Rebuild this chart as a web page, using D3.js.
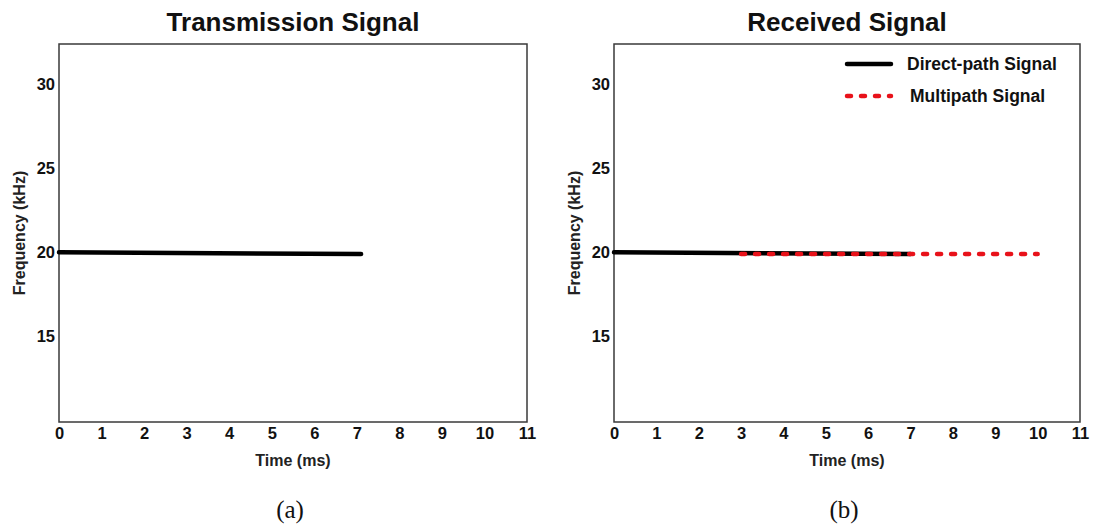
<!DOCTYPE html>
<html>
<head>
<meta charset="utf-8">
<script src="https://cdn.jsdelivr.net/npm/d3@7"></script>
<style>
  body { margin: 0; background: #fff; }
</style>
</head>
<body>
<div id="chart"></div>
<script>
// data
var xTicks = [0, 1, 2, 3, 4, 5, 6, 7, 8, 9, 10, 11];
var yTicks = [15, 20, 25, 30];
var transTime = [0, 7.1];
var transFreq = [20, 19.9];
var directTime = [0, 7];
var directFreq = [20, 19.9];
var multiTime = [3, 10];
var multiFreq = [19.9, 19.9];
var legendLabels = ["Direct-path Signal", "Multipath Signal"];

var W = 1097, H = 525;
var sans = "'Liberation Sans', Arial, sans-serif";
var serif = "'Liberation Serif', 'Times New Roman', serif";

var svg = d3.select("#chart").append("svg")
  .attr("width", W).attr("height", H);

var panelTop = 44, panelBottom = 422;

function toPoints(ts, fs) {
  return ts.map(function (t, i) { return { t: t, f: fs[i] }; });
}

function drawPanel(left, right, title, caption, series, legend) {
  var x = d3.scaleLinear().domain([0, 11]).range([left, right]);
  var y = d3.scaleLinear().domain([9.9, 32.4]).range([panelBottom, panelTop]);
  var g = svg.append("g");

  // frame
  g.append("rect")
    .attr("x", left).attr("y", panelTop)
    .attr("width", right - left).attr("height", panelBottom - panelTop)
    .attr("fill", "none").attr("stroke", "#3a3a3a").attr("stroke-width", 1.5);

  // x axis
  var xa = g.append("g").attr("transform", "translate(0," + panelBottom + ")")
    .call(d3.axisBottom(x).tickValues(xTicks).tickSize(0).tickPadding(5));
  xa.select(".domain").remove();
  xa.selectAll("text")
    .style("font-size", "16.5px").style("font-weight", "bold")
    .style("font-family", sans).attr("fill", "#111");

  // y axis
  var ya = g.append("g").attr("transform", "translate(" + left + ",0)")
    .call(d3.axisLeft(y).tickValues(yTicks).tickSize(0).tickPadding(4));
  ya.select(".domain").remove();
  ya.selectAll("text")
    .style("font-size", "16.5px").style("font-weight", "bold")
    .style("font-family", sans).attr("fill", "#111");

  // titles
  g.append("text")
    .attr("x", (left + right) / 2).attr("y", 31)
    .attr("text-anchor", "middle")
    .style("font-family", sans).style("font-size", "26px").style("font-weight", "bold")
    .attr("fill", "#111")
    .text(title);

  g.append("text")
    .attr("x", (left + right) / 2).attr("y", 466)
    .attr("text-anchor", "middle")
    .style("font-family", sans).style("font-size", "16px").style("font-weight", "bold")
    .attr("fill", "#222")
    .text("Time (ms)");

  g.append("text")
    .attr("transform", "translate(" + (left - 34) + "," + ((panelTop + panelBottom) / 2) + "),rotate(-90)")
    .attr("text-anchor", "middle")
    .style("font-family", sans).style("font-size", "16px").style("font-weight", "bold")
    .attr("fill", "#222")
    .text("Frequency (kHz)");

  g.append("text")
    .attr("x", (left + right) / 2 - 3).attr("y", 518)
    .attr("text-anchor", "middle")
    .style("font-family", serif).style("font-size", "25px")
    .attr("fill", "#111")
    .text(caption);

  var line = d3.line()
    .x(function (d) { return x(d.t); })
    .y(function (d) { return y(d.f); });

  series.forEach(function (s) {
    g.append("path")
      .datum(s.data)
      .attr("fill", "none")
      .attr("stroke", s.color)
      .attr("stroke-width", 4.5)
      .attr("stroke-linecap", "round")
      .attr("stroke-dasharray", s.dash || null)
      .attr("d", line);
  });

  if (legend) {
    legend.forEach(function (l, i) {
      var ly = 64 + i * 32;
      g.append("line")
        .attr("x1", 847).attr("x2", 891)
        .attr("y1", ly).attr("y2", ly)
        .attr("stroke", l.color).attr("stroke-width", 4.5)
        .attr("stroke-linecap", "round")
        .attr("stroke-dasharray", l.dash || null);
      g.append("text")
        .attr("x", l.tx).attr("y", ly + 6)
        .style("font-family", sans).style("font-size", "17.5px").style("font-weight", "bold")
        .attr("fill", "#111")
        .text(l.label);
    });
  }
}

drawPanel(59, 527, "Transmission Signal", "(a)", [
  { data: toPoints(transTime, transFreq), color: "#000" }
]);

drawPanel(614, 1080, "Received Signal", "(b)", [
  { data: toPoints(directTime, directFreq), color: "#000" },
  { data: toPoints(multiTime, multiFreq), color: "#e8121a", dash: "4,10" }
], [
  { label: legendLabels[0], color: "#000", tx: 907 },
  { label: legendLabels[1], color: "#e8121a", dash: "4,10", tx: 910 }
]);
</script>
</body>
</html>
